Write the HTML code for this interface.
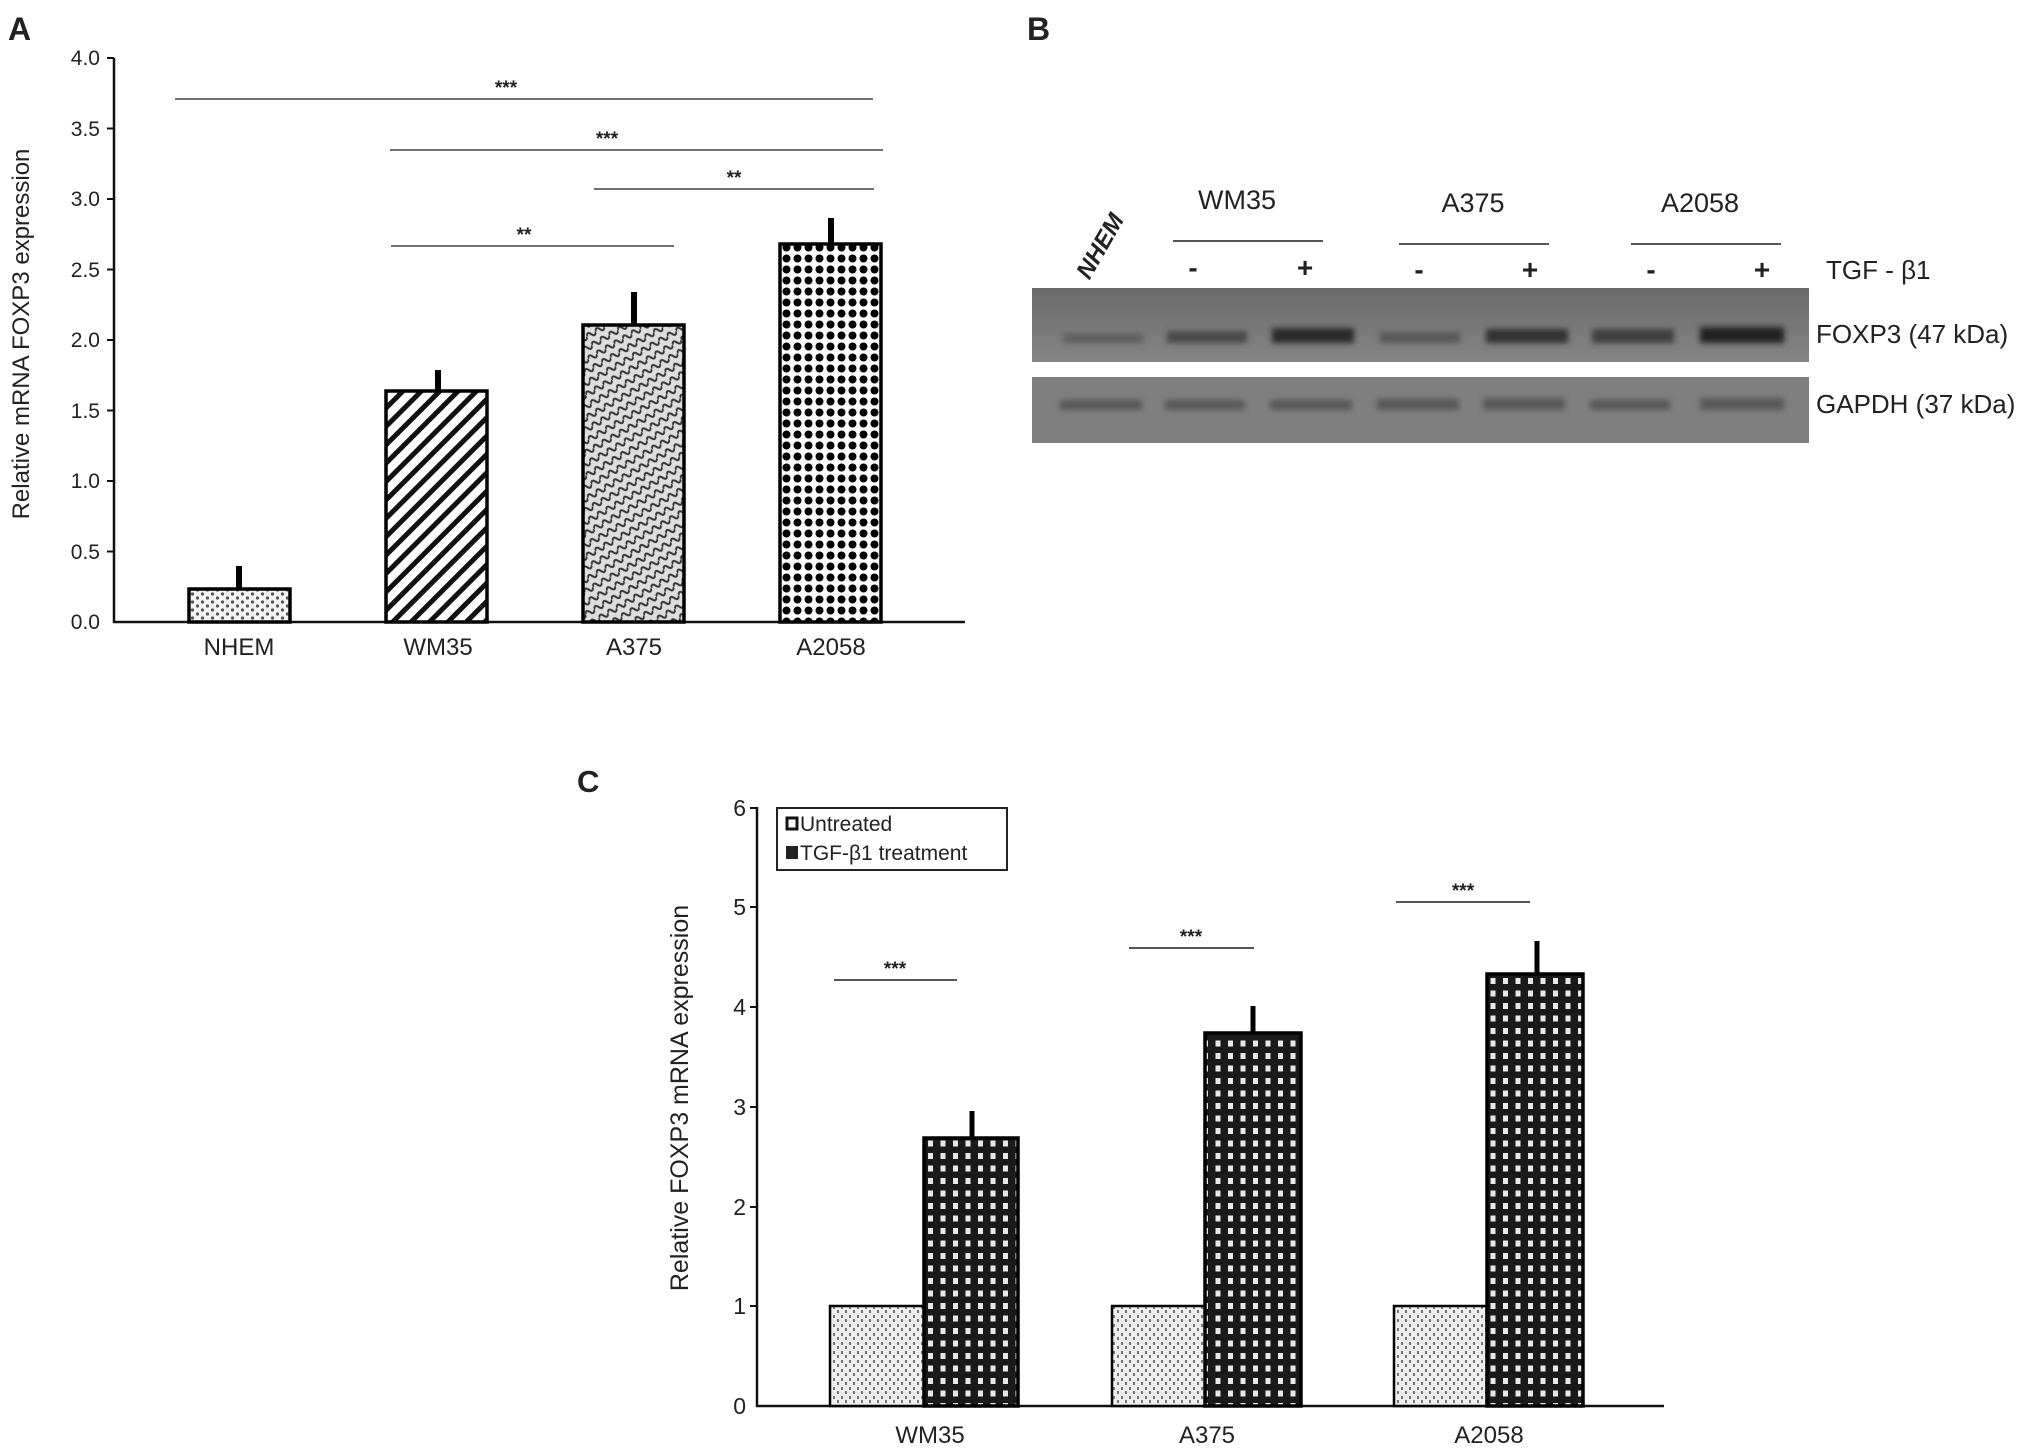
<!DOCTYPE html>
<html><head><meta charset="utf-8"><style>
html,body{margin:0;padding:0;background:#fff;width:2031px;height:1455px;overflow:hidden}
svg{display:block}
.t{font-family:"Liberation Sans",sans-serif;fill:#222}
.c{font-family:"Liberation Sans",sans-serif;fill:#222}
</style></head><body>
<svg width="2031" height="1455" viewBox="0 0 2031 1455" xmlns="http://www.w3.org/2000/svg">
<defs>
<pattern id="pN" width="10" height="8" patternUnits="userSpaceOnUse">
<rect width="10" height="8" fill="#f4f4f4"/><circle cx="2.5" cy="2" r="1.6" fill="#555"/><circle cx="7.5" cy="6" r="1.6" fill="#555"/></pattern>
<pattern id="pW" width="13" height="13" patternUnits="userSpaceOnUse" patternTransform="rotate(-45)">
<rect width="13" height="13" fill="#fff"/><rect width="13" height="5" fill="#111"/></pattern>
<pattern id="pA" width="10" height="10" patternUnits="userSpaceOnUse" patternTransform="rotate(-30)">
<rect width="10" height="10" fill="#ddd"/><path d="M0 5 Q2.5 0 5 5 T10 5" stroke="#333" stroke-width="2" fill="none"/></pattern>
<pattern id="pD" width="11" height="11" patternUnits="userSpaceOnUse">
<rect width="11" height="11" fill="#fff"/><circle cx="5.5" cy="5.5" r="4" fill="#000"/></pattern>
<pattern id="pU" width="8" height="9" patternUnits="userSpaceOnUse">
<rect width="8" height="9" fill="#eee"/><rect x="1" y="1" width="2" height="3" fill="#777"/><rect x="5" y="5" width="2" height="3" fill="#777"/></pattern>
<pattern id="pT" width="12.5" height="12.5" patternUnits="userSpaceOnUse">
<rect width="12.5" height="12.5" fill="#1a1a1a"/><rect x="3" y="3" width="5" height="6" fill="#e8e8e8"/></pattern>
<linearGradient id="gb" x1="0" y1="0" x2="0" y2="1"><stop offset="0" stop-color="#6a6a6a"/><stop offset="1" stop-color="#858585"/></linearGradient>
<filter id="bl"><feGaussianBlur stdDeviation="3"/></filter>
</defs>

<!-- Panel A -->
<text x="8" y="40" class="t" font-size="32" font-weight="bold" fill="#111">A</text>
<g stroke="#111" stroke-width="2.5">
<line x1="114" y1="58" x2="114" y2="623"/>
<line x1="113" y1="622" x2="965" y2="622"/>
</g>
<g stroke="#111" stroke-width="2">
<line x1="107" y1="58" x2="114" y2="58"/><line x1="107" y1="128.5" x2="114" y2="128.5"/>
<line x1="107" y1="199" x2="114" y2="199"/><line x1="107" y1="269.5" x2="114" y2="269.5"/>
<line x1="107" y1="340" x2="114" y2="340"/><line x1="107" y1="410.5" x2="114" y2="410.5"/>
<line x1="107" y1="481" x2="114" y2="481"/><line x1="107" y1="551.5" x2="114" y2="551.5"/>
</g>
<g class="t" font-size="21" text-anchor="end">
<text x="100" y="65">4.0</text><text x="100" y="136">3.5</text><text x="100" y="206">3.0</text>
<text x="100" y="277">2.5</text><text x="100" y="347">2.0</text><text x="100" y="418">1.5</text>
<text x="100" y="488">1.0</text><text x="100" y="559">0.5</text><text x="100" y="629">0.0</text>
</g>
<text transform="translate(29,334) rotate(-90)" class="t" font-size="24" text-anchor="middle">Relative mRNA FOXP3 expression</text>
<g stroke="#000" stroke-width="3.5">
<rect x="189" y="589" width="101" height="33" fill="url(#pN)"/>
<rect x="386" y="391" width="101" height="231" fill="url(#pW)"/>
<rect x="583" y="325" width="101" height="297" fill="url(#pA)"/>
<rect x="780" y="244" width="101" height="378" fill="url(#pD)"/>
</g>
<g stroke="#000" stroke-width="6">
<line x1="239" y1="589" x2="239" y2="566"/><line x1="438" y1="391" x2="438" y2="370"/>
<line x1="634" y1="325" x2="634" y2="292"/><line x1="831" y1="244" x2="831" y2="218"/>
</g>
<g stroke="#444" stroke-width="1.6">
<line x1="175" y1="99" x2="873" y2="99"/><line x1="390" y1="150" x2="883" y2="150"/>
<line x1="594" y1="189" x2="874" y2="189"/><line x1="391" y1="246" x2="674" y2="246"/>
</g>
<g class="t" font-size="19" font-weight="bold" text-anchor="middle">
<text x="506" y="94">***</text><text x="607" y="145">***</text><text x="734" y="184">**</text><text x="524" y="241">**</text>
</g>
<g class="t" font-size="24" text-anchor="middle">
<text x="239" y="655">NHEM</text><text x="438" y="655">WM35</text><text x="634" y="655">A375</text><text x="831" y="655">A2058</text>
</g>

<!-- Panel B -->
<text x="1027" y="40" class="t" font-size="32" font-weight="bold" fill="#111">B</text>
<g class="c" font-size="27" text-anchor="middle">
<text x="1237" y="209">WM35</text><text x="1473" y="212">A375</text><text x="1700" y="212">A2058</text>
</g>
<text transform="translate(1107,250) rotate(-60)" class="c" font-size="24" font-weight="bold" font-style="italic" text-anchor="middle">NHEM</text>
<g stroke="#555" stroke-width="2">
<line x1="1173" y1="241" x2="1323" y2="241"/><line x1="1399" y1="244" x2="1549" y2="244"/><line x1="1631" y1="244" x2="1781" y2="244"/>
</g>
<g class="c" font-size="28" text-anchor="middle" font-weight="bold">
<text x="1193" y="277">-</text><text x="1305" y="277">+</text><text x="1419" y="279">-</text><text x="1530" y="279">+</text><text x="1651" y="279">-</text><text x="1762" y="279">+</text>
</g>
<text x="1826" y="279" class="c" font-size="26">TGF - β1</text>
<rect x="1032" y="288" width="777" height="74" fill="url(#gb)"/>
<rect x="1032" y="377" width="777" height="66" fill="#7f7f7f"/>
<g filter="url(#bl)">
<rect x="1063" y="333" width="80" height="10" fill="#606060"/>
<rect x="1167" y="331" width="80" height="12" fill="#4a4a4a"/>
<rect x="1272" y="328" width="82" height="15" fill="#2a2a2a"/>
<rect x="1380" y="332" width="80" height="11" fill="#595959"/>
<rect x="1486" y="329" width="82" height="14" fill="#333"/>
<rect x="1592" y="329" width="82" height="14" fill="#404040"/>
<rect x="1700" y="327" width="84" height="16" fill="#222"/>
<g fill="#585858">
<rect x="1060" y="400" width="82" height="10"/><rect x="1165" y="400" width="80" height="10"/><rect x="1270" y="400" width="82" height="10"/>
<rect x="1377" y="399" width="82" height="11"/><rect x="1483" y="398" width="82" height="12"/><rect x="1590" y="400" width="80" height="10"/><rect x="1700" y="398" width="84" height="12"/>
</g></g>
<text x="1816" y="343" class="c" font-size="26">FOXP3 (47 kDa)</text>
<text x="1816" y="413" class="c" font-size="26">GAPDH (37 kDa)</text>

<!-- Panel C -->
<text x="577" y="792" class="t" font-size="31" font-weight="bold" fill="#111">C</text>
<g stroke="#111" stroke-width="2.5">
<line x1="757" y1="807" x2="757" y2="1407"/><line x1="756" y1="1406" x2="1664" y2="1406"/>
</g>
<g stroke="#111" stroke-width="2">
<line x1="750" y1="808" x2="757" y2="808"/><line x1="750" y1="907" x2="757" y2="907"/><line x1="750" y1="1007" x2="757" y2="1007"/>
<line x1="750" y1="1107" x2="757" y2="1107"/><line x1="750" y1="1207" x2="757" y2="1207"/><line x1="750" y1="1306" x2="757" y2="1306"/>
</g>
<g class="t" font-size="23" text-anchor="end">
<text x="746" y="816">6</text><text x="746" y="915">5</text><text x="746" y="1015">4</text><text x="746" y="1115">3</text>
<text x="746" y="1215">2</text><text x="746" y="1314">1</text><text x="746" y="1414">0</text>
</g>
<text transform="translate(688,1098) rotate(-90)" class="t" font-size="25" text-anchor="middle">Relative FOXP3 mRNA expression</text>
<g stroke="#000" stroke-width="2.5">
<rect x="830" y="1306" width="94" height="100" fill="url(#pU)"/>
<rect x="924" y="1138" width="94" height="268" fill="url(#pT)" stroke-width="3.5"/>
<rect x="1112" y="1306" width="93" height="100" fill="url(#pU)"/>
<rect x="1205" y="1033" width="96" height="373" fill="url(#pT)" stroke-width="3.5"/>
<rect x="1394" y="1306" width="93" height="100" fill="url(#pU)"/>
<rect x="1487" y="974" width="96" height="432" fill="url(#pT)" stroke-width="3.5"/>
</g>
<g stroke="#000" stroke-width="5">
<line x1="972" y1="1138" x2="972" y2="1111"/><line x1="1253" y1="1033" x2="1253" y2="1006"/><line x1="1537" y1="974" x2="1537" y2="941"/>
</g>
<g stroke="#555" stroke-width="2">
<line x1="834" y1="980" x2="957" y2="980"/><line x1="1129" y1="948" x2="1254" y2="948"/><line x1="1396" y1="902" x2="1530" y2="902"/>
</g>
<g class="t" font-size="19" font-weight="bold" text-anchor="middle">
<text x="895" y="975">***</text><text x="1191" y="943">***</text><text x="1463" y="897">***</text>
</g>
<rect x="777" y="808" width="230" height="62" fill="#fff" stroke="#222" stroke-width="2"/>
<rect x="787" y="818" width="10" height="11" fill="#fff" stroke="#111" stroke-width="3"/>
<rect x="786" y="846" width="12" height="13" fill="#222"/>
<text x="800" y="831" class="t" font-size="21">Untreated</text>
<text x="800" y="860" class="t" font-size="21">TGF-β1 treatment</text>
<g class="t" font-size="24" text-anchor="middle">
<text x="930" y="1443">WM35</text><text x="1207" y="1443">A375</text><text x="1489" y="1443">A2058</text>
</g>
</svg>
</body></html>
